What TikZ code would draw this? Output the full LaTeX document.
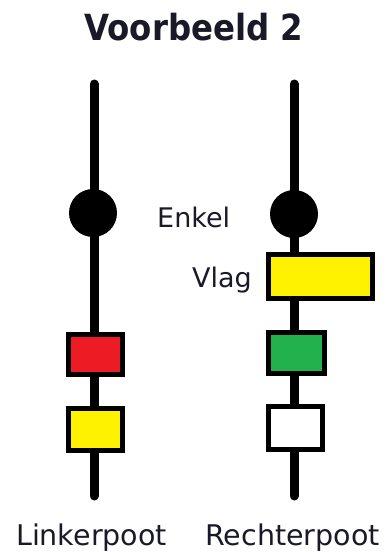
\documentclass[tikz,border=0pt]{standalone}
\usepackage{fontspec}
\setmainfont{DejaVu Sans}
\newfontfamily\titlefont{DejaVu Sans Condensed}[BoldFont={* Bold}]
\definecolor{mred}{RGB}{237,28,36}
\definecolor{myellow}{RGB}{255,242,0}
\definecolor{mgreen}{RGB}{34,177,76}
\definecolor{txt}{RGB}{25,25,40}
\begin{document}
\begin{tikzpicture}[x=1pt,y=-1pt,
  leg/.style={line width=9pt,line cap=round,black},
  ankle/.style={circle,fill=black,minimum size=48pt,inner sep=0pt},
  band/.style={draw=black,line width=5pt,inner sep=0pt},
  lbl/.style={text=txt,inner sep=0pt,font=\fontsize{27}{32}\selectfont},
  leglbl/.style={text=txt,inner sep=0pt,font=\fontsize{28.5}{34}\selectfont}]
\fill[white] (0,0) rectangle (389,552);
\useasboundingbox (0,0) rectangle (389,552);
% title
\node[anchor=base,inner sep=0pt,text=txt,font=\titlefont\bfseries\fontsize{36}{42}\selectfont] (title) at (194,40) {Voorbeeld 2};
% legs
\coordinate (ltop) at (94,84);
\coordinate (lbot) at (94,496);
\coordinate (rtop) at (294,84);
\coordinate (rbot) at (294,496);
\draw[leg] (ltop) -- (lbot);
\draw[leg] (rtop) -- (rbot);
% left leg
\node[ankle] (lank) at (93,213) {};
\node[band,fill=mred,minimum width=54pt,minimum height=40pt] (lred) at (95.5,354.5) {};
\node[band,fill=myellow,minimum width=54pt,minimum height=42pt] (lyel) at (95.5,429.5) {};
% right leg
\node[ankle] (rank) at (294,214) {};
\node[band,fill=myellow,minimum width=104pt,minimum height=44pt] (flag) at (320.5,276.5) {};
\node[band,fill=mgreen,minimum width=56pt,minimum height=41pt] (rgreen) at (296.5,353) {};
\node[band,fill=white,minimum width=54pt,minimum height=43pt] (rwhite) at (295.5,428) {};
% labels
\node[lbl,anchor=base west] (enkel) at (157,227) {Enkel};
\node[lbl,anchor=base east] (vlag) at (252,287) {Vlag};
\node[leglbl,anchor=base] (linker) at (91.5,545) {Linkerpoot};
\node[leglbl,anchor=base] (rechter) at (292.5,545) {Rechterpoot};
\end{tikzpicture}
\end{document}
